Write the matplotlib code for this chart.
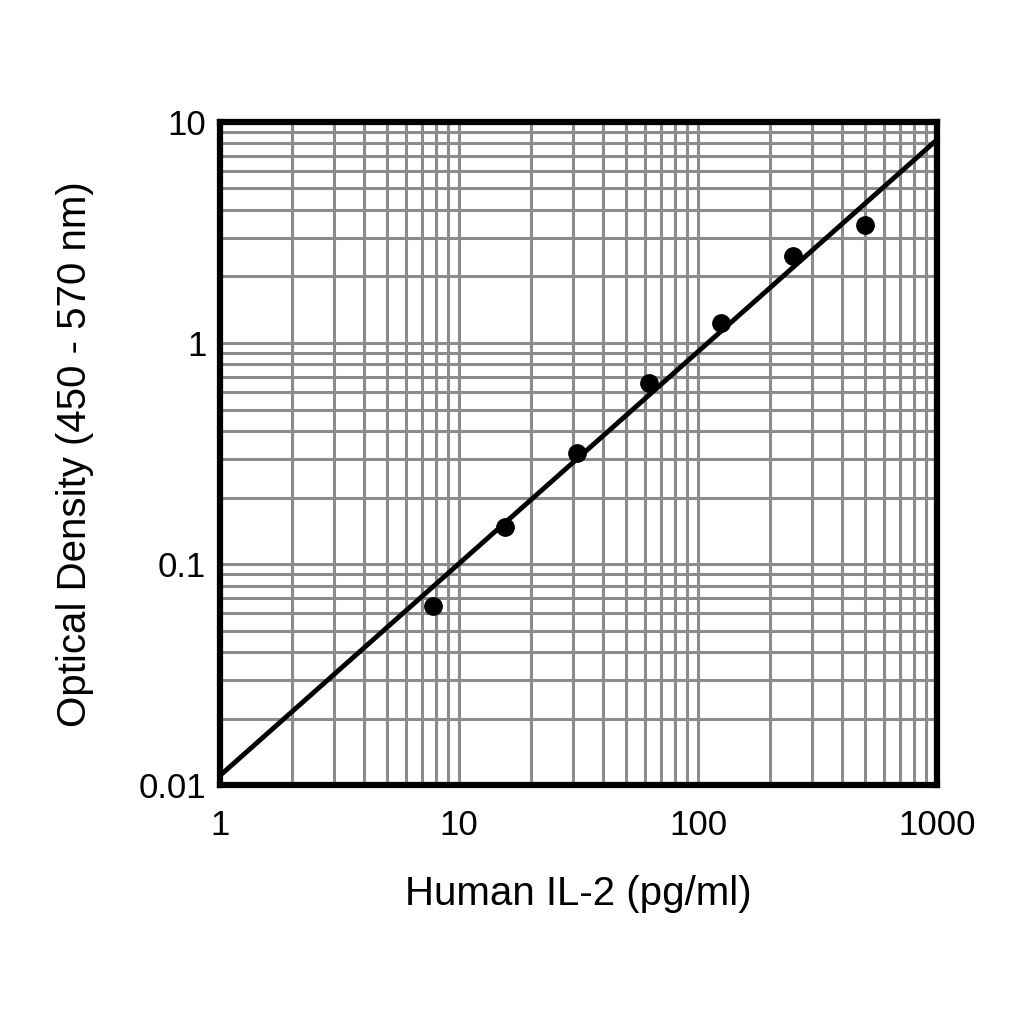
import matplotlib
matplotlib.use('Agg')
import matplotlib.pyplot as plt

plt.rcParams['font.family'] = ['Liberation Sans', 'DejaVu Sans']

# standard curve points
conc = [7.8, 15.6, 31.25, 62.5, 125, 250, 500]
od = [0.065, 0.147, 0.318, 0.66, 1.23, 2.48, 3.42]

# fitted line end points
fit_x = [1, 1000]
fit_y = [0.0111, 8.3]

x_ticks = [1, 10, 100, 1000]
x_labels = ['1', '10', '100', '1000']
y_ticks = [0.01, 0.1, 1, 10]
y_labels = ['0.01', '0.1', '1', '10']

fig = plt.figure(figsize=(10.24, 10.24), dpi=100)
ax = fig.add_axes([0.215, 0.233, 0.70, 0.648])

ax.set_xscale('log')
ax.set_yscale('log')
ax.set_xlim(1, 1000)
ax.set_ylim(0.01, 10)

ax.grid(True, which='both', color='#8c8c8c', linewidth=2.2)
ax.set_axisbelow(True)

ax.plot(fit_x, fit_y, color='black', linewidth=3.5, clip_on=False, zorder=3)
ax.plot(conc, od, 'o', color='black', markersize=12.5, zorder=4)

ax.set_xticks(x_ticks)
ax.set_xticklabels(x_labels)
ax.set_yticks(y_ticks)
ax.set_yticklabels(y_labels)
ax.minorticks_on()
ax.tick_params(which='both', length=0, labelsize=25)
ax.tick_params(axis='x', pad=17)
ax.tick_params(axis='y', pad=10)

for s in ax.spines.values():
    s.set_linewidth(4.5)
    s.set_color('black')

ax.set_xlabel('Human IL-2 (pg/ml)', fontsize=29, labelpad=24)
ax.set_ylabel('Optical Density (450 - 570 nm)', fontsize=29, labelpad=32)

fig.savefig('out.png', dpi=100, facecolor='white')
